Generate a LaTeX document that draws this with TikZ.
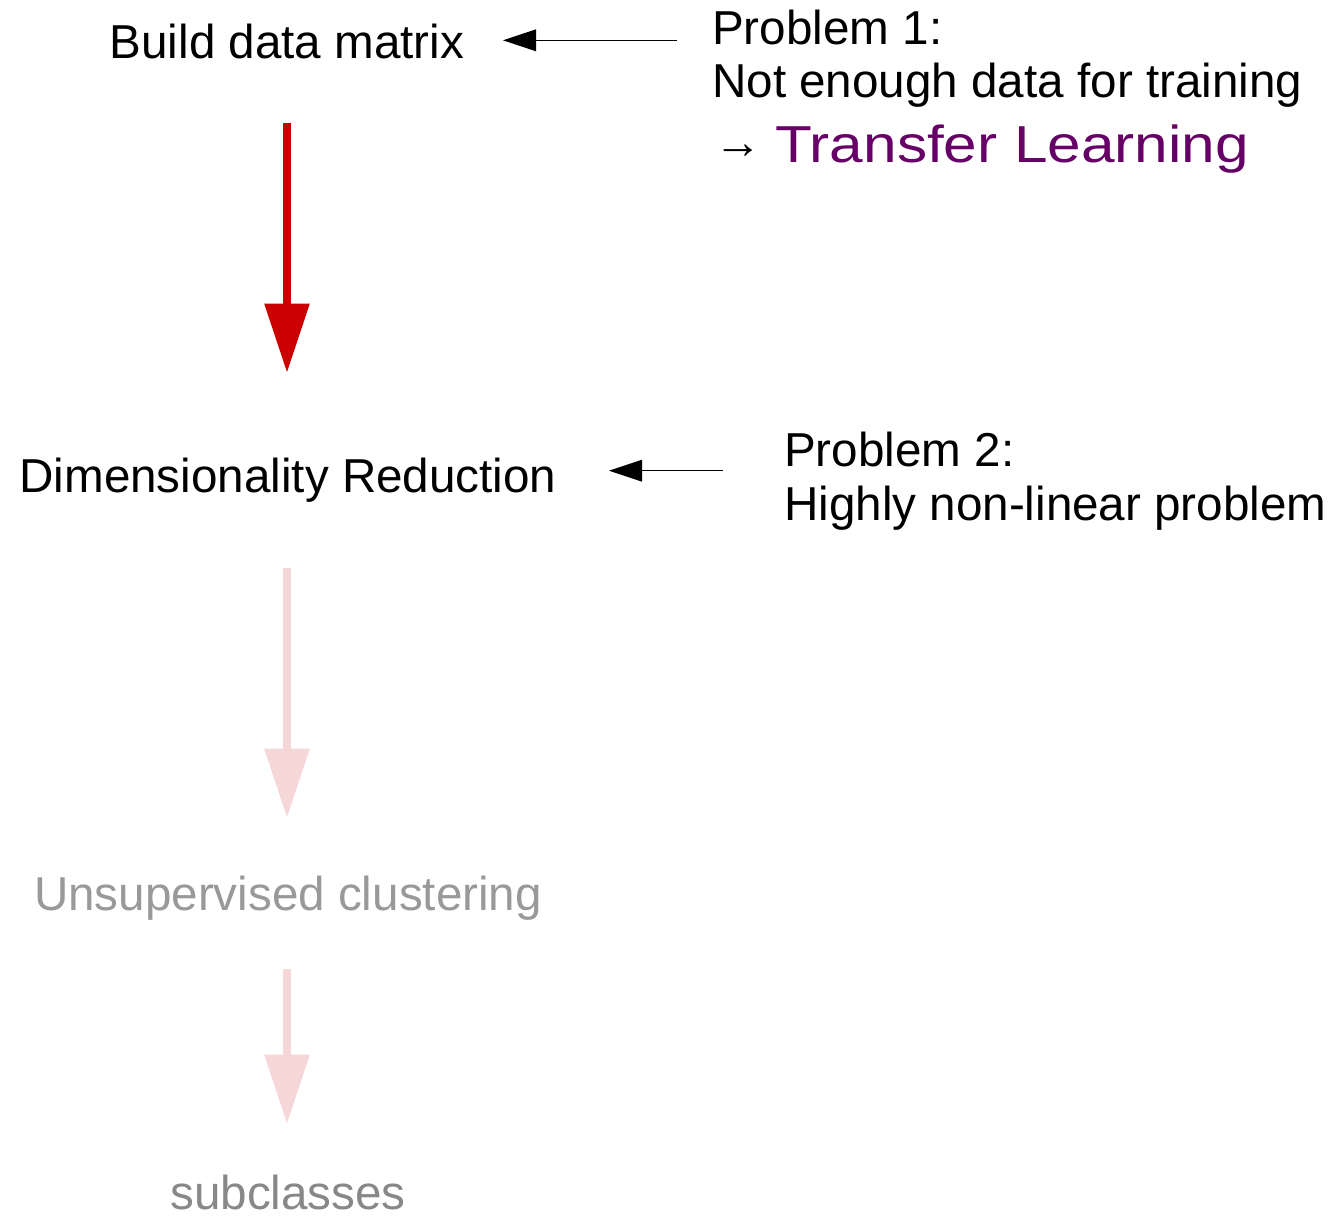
\documentclass[tikz,border=0pt]{standalone}
\usepackage{fontspec}
\setmainfont{Liberation Sans}
\usetikzlibrary{arrows.meta}
\definecolor{flowred}{RGB}{204,0,0}
\definecolor{flowpale}{RGB}{246,215,215}
\definecolor{fadedtext}{RGB}{153,153,153}
\definecolor{fadedsub}{RGB}{136,136,136}
\definecolor{notepurple}{RGB}{102,0,102}
\begin{document}
\begin{tikzpicture}[x=1pt,y=-1pt,
  txt/.style={inner sep=0pt, font=\fontsize{47.6}{53}\selectfont},
  stage/.style={txt, anchor=base},
  note/.style={txt, anchor=base west},
  flow/.style={draw=flowred, line width=8.4pt,
    -{Triangle[length=68.4pt,width=45.7pt,line width=0pt]}},
  flowfaint/.style={flow, draw=flowpale},
  pointer/.style={draw=black, line width=1.5pt,
    -{Triangle[length=33pt,width=22pt,line width=0pt]}}]
\useasboundingbox (0,0) rectangle (1336,1218);

% pipeline stages
\node[stage] (build) at (287,58) {Build data matrix};
\node[stage] (dimred) at (288,492) {Dimensionality Reduction};
\node[stage, text=fadedtext] (unsup) at (288,910) {Unsupervised clustering};
\node[stage, text=fadedsub] (subcl) at (288,1209) {subclasses};

% problem notes
\node[note] (p1) at (712,44) {Problem 1:};
\node[note] (p1b) at (712,97) {Not enough data for training};
\node[note] (p1arrow) at (714,158) {→};
\node[anchor=base west, inner sep=0pt, font=\fontsize{52}{60}\selectfont,
      text=notepurple, xscale=1.16] (transfer) at (775,162) {Transfer Learning};
\node[note] (p2) at (784,466) {Problem 2:};
\node[note] (p2b) at (784,520) {Highly non-linear problem};

% pipeline arrows
\draw[flow, shorten <=65pt, shorten >=120pt]
  (build.base) -- (build.base |- dimred.base);
\draw[flowfaint, shorten <=76pt, shorten >=93pt]
  (dimred.base -| build.base) -- (unsup.base -| build.base);
\draw[flowfaint, shorten <=59pt, shorten >=86pt]
  (unsup.base -| build.base) -- (subcl.base -| build.base);

% note pointers
\coordinate (a1) at (677,40.3);
\coordinate (a1tip) at (503,40.3);
\draw[pointer] (a1) -- (a1tip);
\coordinate (a2) at (723,470.7);
\coordinate (a2tip) at (609,470.7);
\draw[pointer] (a2) -- (a2tip);
\end{tikzpicture}
\end{document}
